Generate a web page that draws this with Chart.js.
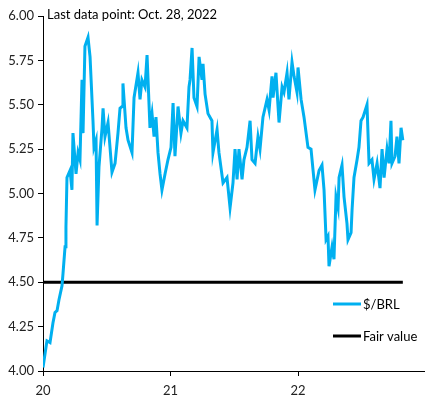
<!DOCTYPE html>
<html>
<head>
<meta charset="utf-8">
<script src="https://cdn.jsdelivr.net/npm/chart.js@4"></script>
<style>
  body { margin: 0; background: #fff; }
  #wrap { width: 432px; height: 401px; }
</style>
</head>
<body>
<div id="wrap"><canvas id="brlChart" width="432" height="401"></canvas></div>
<script>
// years since Jan 1, 2020
const times = [
  0.000, 0.031, 0.055, 0.078, 0.094, 0.110, 0.125, 0.149, 0.157, 0.173,
  0.180, 0.188, 0.212, 0.227, 0.235, 0.259, 0.275, 0.290, 0.306, 0.314,
  0.329, 0.353, 0.369, 0.392, 0.400, 0.416, 0.424, 0.439, 0.463, 0.471,
  0.486, 0.510, 0.541, 0.565, 0.588, 0.604, 0.620, 0.627, 0.651, 0.667,
  0.698, 0.714, 0.745, 0.761, 0.776, 0.800, 0.816, 0.839, 0.855, 0.871,
  0.886, 0.902, 0.918, 0.933, 0.957, 0.980, 1.004, 1.020, 1.035, 1.059,
  1.082, 1.098, 1.129, 1.145, 1.153, 1.169, 1.184, 1.208, 1.224, 1.247,
  1.255, 1.271, 1.294, 1.325, 1.333, 1.365, 1.380, 1.412, 1.443, 1.467,
  1.490, 1.506, 1.522, 1.537, 1.561, 1.576, 1.600, 1.624, 1.639, 1.663,
  1.686, 1.702, 1.725, 1.757, 1.773, 1.796, 1.804, 1.827, 1.851, 1.875,
  1.890, 1.914, 1.929, 1.953, 1.969, 1.992, 2.000, 2.024, 2.047, 2.078,
  2.102, 2.118, 2.133, 2.165, 2.188, 2.204, 2.220, 2.235, 2.243, 2.267,
  2.282, 2.298, 2.314, 2.322, 2.345, 2.361, 2.384, 2.392, 2.416, 2.424,
  2.439, 2.463, 2.478, 2.494, 2.510, 2.541, 2.557, 2.580, 2.596, 2.620,
  2.643, 2.659, 2.675, 2.698, 2.714, 2.729, 2.737, 2.761, 2.776, 2.792,
  2.808, 2.822
];

const usdBrl = [
  4.02, 4.17, 4.16, 4.27, 4.33, 4.34, 4.40, 4.48, 4.55, 4.70,
  4.81, 5.09, 5.13, 5.02, 5.34, 5.11, 5.23, 5.19, 5.64, 5.34,
  5.83, 5.88, 5.77, 5.41, 5.26, 5.30, 4.82, 5.15, 5.37, 5.48,
  5.32, 5.40, 5.12, 5.17, 5.34, 5.48, 5.49, 5.62, 5.37, 5.30,
  5.23, 5.54, 5.68, 5.53, 5.64, 5.60, 5.78, 5.37, 5.45, 5.32,
  5.43, 5.23, 5.11, 5.02, 5.11, 5.19, 5.26, 5.51, 5.21, 5.49,
  5.34, 5.41, 5.37, 5.60, 5.64, 5.82, 5.54, 5.49, 5.77, 5.64,
  5.73, 5.56, 5.45, 5.41, 5.23, 5.36, 5.23, 5.06, 5.09, 4.92,
  5.06, 5.25, 5.08, 5.25, 5.08, 5.19, 5.26, 5.41, 5.19, 5.17,
  5.32, 5.25, 5.43, 5.53, 5.47, 5.66, 5.54, 5.68, 5.40, 5.60,
  5.57, 5.68, 5.53, 5.74, 5.66, 5.57, 5.71, 5.53, 5.43, 5.26,
  5.25, 5.13, 5.02, 5.13, 5.16, 5.02, 4.74, 4.76, 4.59, 4.70,
  4.63, 4.98, 4.92, 5.09, 5.16, 4.98, 4.83, 4.74, 4.78, 4.91,
  5.09, 5.19, 5.26, 5.41, 5.43, 5.50, 5.17, 5.19, 5.08, 5.17,
  5.03, 5.25, 5.09, 5.25, 5.17, 5.41, 5.17, 5.21, 5.32, 5.17,
  5.37, 5.30
];

const fairValue = 4.50;
const yearTicks = [0, 1, 2];
const yearLabels = ['20', '21', '22'];
const seriesNames = ['$/BRL', 'Fair value'];
const noteText = 'Last data point: Oct. 28, 2022';

const tickFont = { family: 'Lato', size: 13 };
const textFont = '13px Lato';

const overlay = {
  id: 'overlay',
  afterDraw(chart) {
    const { ctx, chartArea } = chart;
    ctx.save();
    ctx.fillStyle = '#000';
    ctx.font = textFont;
    ctx.textBaseline = 'middle';
    ctx.fillText(noteText, chartArea.left + 4, chartArea.top - 1);

    // legend, inside the plot on the right
    const x0 = chartArea.right - 91;
    const rows = [chartArea.top + 288, chartArea.top + 320];
    chart.data.datasets.forEach((ds, i) => {
      ctx.strokeStyle = ds.borderColor;
      ctx.lineWidth = 3;
      ctx.beginPath();
      ctx.moveTo(x0, rows[i]);
      ctx.lineTo(x0 + 28, rows[i]);
      ctx.stroke();
      ctx.fillText(ds.label, x0 + 30, rows[i] + 1);
    });
    ctx.restore();
  }
};

new Chart(document.getElementById('brlChart'), {
  type: 'line',
  data: {
    datasets: [
      {
        label: seriesNames[0],
        data: times.map((t, i) => ({ x: t, y: usdBrl[i] })),
        borderColor: '#00B0F0',
        borderWidth: 3,
        pointRadius: 0,
        tension: 0
      },
      {
        label: seriesNames[1],
        data: [{ x: times[0], y: fairValue }, { x: times[times.length - 1], y: fairValue }],
        borderColor: '#000000',
        borderWidth: 3,
        pointRadius: 0
      }
    ]
  },
  options: {
    responsive: false,
    animation: false,
    layout: { padding: { top: 16, right: 8, left: 0, bottom: 0 } },
    plugins: {
      legend: { display: false },
      tooltip: { enabled: false }
    },
    scales: {
      x: {
        type: 'linear',
        min: 0,
        max: 2.988,
        afterBuildTicks: s => { s.ticks = yearTicks.map(v => ({ value: v })); },
        afterFit: s => { s.height = 30; },
        ticks: {
          color: '#222',
          font: tickFont,
          maxRotation: 0,
          padding: 7,
          callback: v => yearLabels[yearTicks.indexOf(v)]
        },
        grid: { drawOnChartArea: false, drawTicks: true, tickLength: 5, color: '#000' },
        border: { color: '#000', width: 1 }
      },
      y: {
        min: 4,
        max: 6,
        afterFit: s => { s.width = 43; },
        ticks: {
          stepSize: 0.25,
          color: '#222',
          font: tickFont,
          padding: 4,
          callback: v => v.toFixed(2)
        },
        grid: { drawOnChartArea: false, drawTicks: true, tickLength: 5, color: '#000' },
        border: { color: '#000', width: 1 }
      }
    }
  },
  plugins: [overlay]
});
</script>
</body>
</html>
